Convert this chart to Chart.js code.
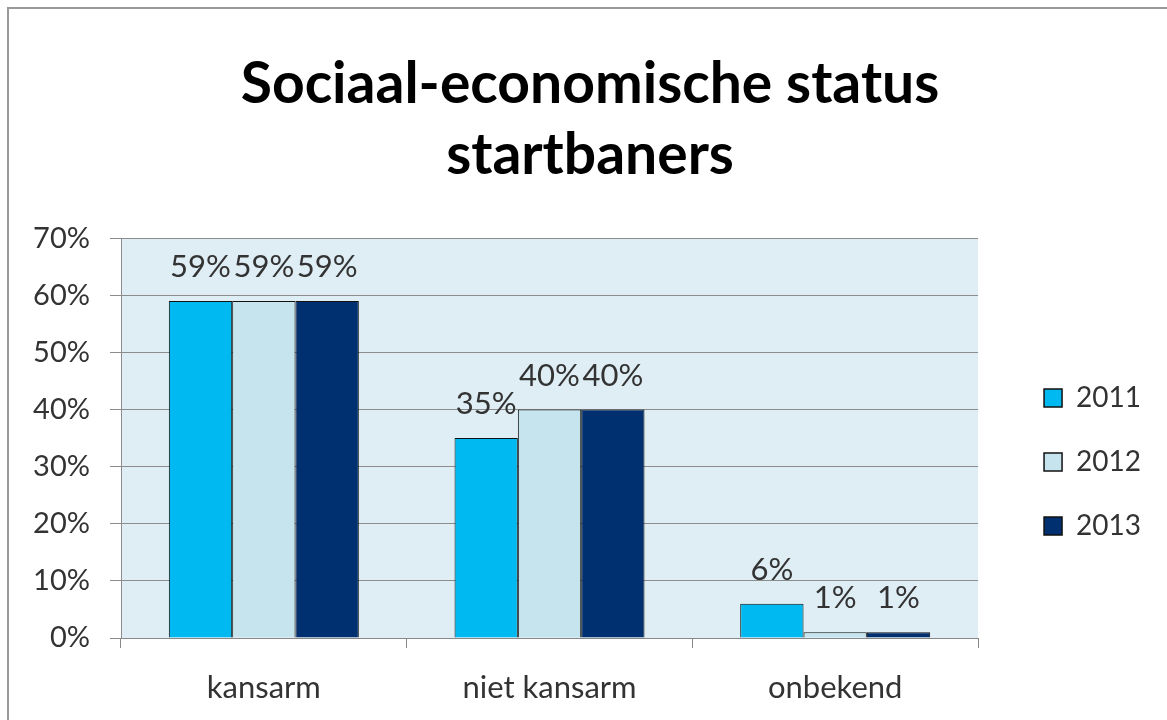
<!DOCTYPE html>
<html>
<head>
<meta charset="utf-8">
<script src="https://cdn.jsdelivr.net/npm/chart.js@4.4.1/dist/chart.umd.min.js"></script>
<style>
  html, body { margin: 0; padding: 0; background: #fff; }
  #wrap { position: relative; width: 1167px; height: 720px; }
</style>
</head>
<body>
<div id="wrap"><canvas id="statusChart" width="1167" height="720"></canvas></div>
<script>
// data
var categories = ['kansarm', 'niet kansarm', 'onbekend'];
var years = ['2011', '2012', '2013'];
var values2011 = [59, 35, 6];
var values2012 = [59, 40, 1];
var values2013 = [59, 40, 1];
var yTicks = [0, 10, 20, 30, 40, 50, 60, 70];

var FONT = 'Lato';

// white page, grey frame and light blue plot area
var backdrop = {
    id: 'backdrop',
    beforeDraw: function (chart) {
        var ctx = chart.ctx, a = chart.chartArea;
        ctx.save();
        ctx.fillStyle = '#fff';
        ctx.fillRect(0, 0, chart.width, chart.height);
        ctx.fillStyle = '#999';
        ctx.fillRect(7, 7, chart.width, 2);
        ctx.fillRect(7, 7, 2, chart.height);
        ctx.fillStyle = '#dfeef5';
        ctx.fillRect(a.left, a.top, a.right - a.left, a.bottom - a.top);
        ctx.restore();
    }
};

// value labels above each bar
var barLabels = {
    id: 'barLabels',
    afterDatasetsDraw: function (chart) {
        var ctx = chart.ctx;
        ctx.save();
        ctx.font = '31px ' + FONT;
        ctx.fillStyle = '#333';
        ctx.textAlign = 'center';
        ctx.textBaseline = 'alphabetic';
        chart.data.datasets.forEach(function (ds, i) {
            chart.getDatasetMeta(i).data.forEach(function (bar, j) {
                ctx.fillText(ds.data[j] + '%', bar.x, bar.y - 24);
            });
        });
        ctx.restore();
    }
};

var ctx = document.getElementById('statusChart').getContext('2d');
var statusChart = new Chart(ctx, {
    type: 'bar',
    data: {
        labels: categories,
        datasets: [
            { label: years[0], data: values2011, backgroundColor: '#00b9f1', borderColor: '#111', borderWidth: 1 },
            { label: years[1], data: values2012, backgroundColor: '#c6e4ee', borderColor: '#111', borderWidth: 1 },
            { label: years[2], data: values2013, backgroundColor: '#003070', borderColor: '#111', borderWidth: 1 }
        ]
    },
    options: {
        responsive: false,
        animation: false,
        layout: { padding: { left: 29, right: 16, top: 0, bottom: 0 } },
        datasets: {
            bar: { categoryPercentage: 0.665, barPercentage: 1.0 }
        },
        plugins: {
            title: {
                display: true,
                text: ['Sociaal-economische status', 'startbaners'],
                color: '#000',
                font: { family: FONT, size: 57, weight: 'bold', lineHeight: 1.23 },
                padding: { top: 50, bottom: 48 }
            },
            legend: {
                position: 'right',
                align: 'start',
                title: {
                    display: true,
                    text: ' ',
                    font: { family: FONT, size: 10, lineHeight: 1 },
                    padding: { top: 338, bottom: 0 }
                },
                labels: {
                    color: '#333',
                    font: { family: FONT, size: 28 },
                    boxWidth: 18,
                    boxHeight: 18,
                    padding: 36,
                    generateLabels: function (chart) {
                        return chart.data.datasets.map(function (ds, i) {
                            return {
                                text: ds.label,
                                fillStyle: ds.backgroundColor,
                                strokeStyle: '#111',
                                lineWidth: 1.5,
                                fontColor: '#333',
                                datasetIndex: i
                            };
                        });
                    }
                }
            },
            tooltip: { enabled: false }
        },
        scales: {
            x: {
                grid: {
                    offset: true,
                    drawOnChartArea: false,
                    color: '#888',
                    tickLength: 10
                },
                border: { color: '#888' },
                ticks: { color: '#333', font: { family: FONT, size: 31 }, padding: 21 },
                afterFit: function (scale) { scale.height = 82; }
            },
            y: {
                min: 0,
                max: 70,
                afterBuildTicks: function (scale) {
                    scale.ticks = yTicks.map(function (v) { return { value: v }; });
                },
                grid: { color: '#8c8c8c', tickLength: 11 },
                border: { color: '#8c8c8c' },
                ticks: {
                    color: '#333',
                    font: { family: FONT, size: 29 },
                    padding: 20,
                    callback: function (v) { return v + '%'; }
                },
                afterFit: function (scale) { scale.width = 92; }
            },
            // empty axis that only keeps a gap between the plot and the legend
            gap: {
                position: 'right',
                grid: { display: false },
                border: { display: false },
                ticks: { display: false },
                afterFit: function (scale) { scale.width = 30; }
            }
        }
    },
    plugins: [backdrop, barLabels]
});
</script>
</body>
</html>
